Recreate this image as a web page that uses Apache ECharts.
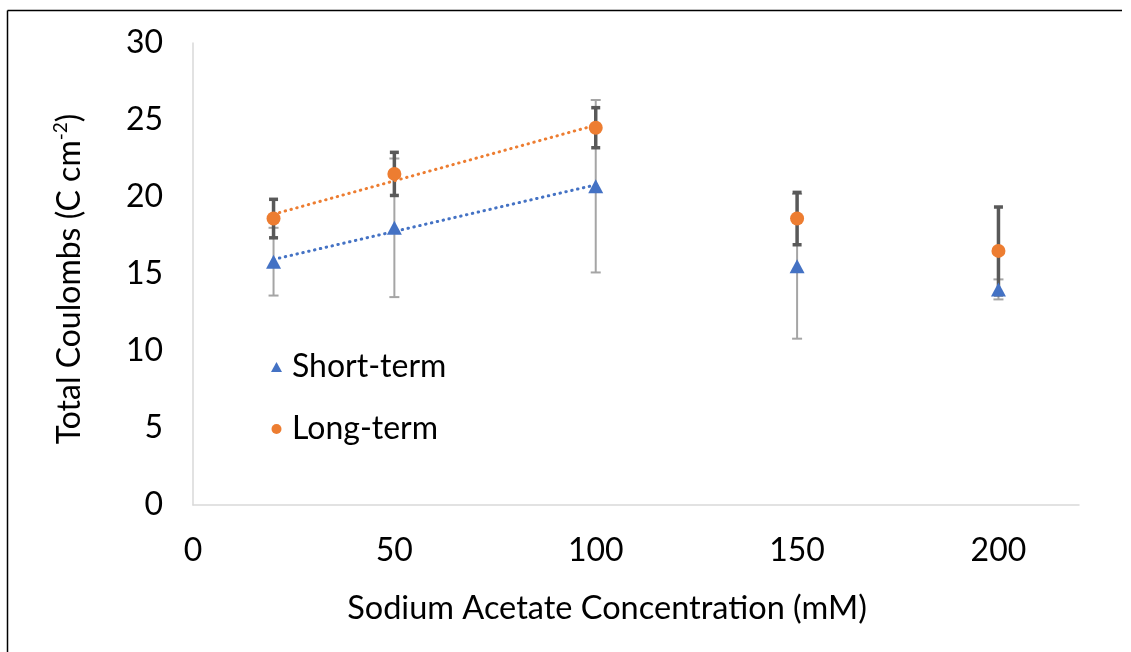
<!DOCTYPE html>
<html>
<head>
<meta charset="utf-8">
<script src="https://cdn.jsdelivr.net/npm/echarts@6/dist/echarts.min.js"></script>
<style>
  html, body { margin: 0; padding: 0; background: #ffffff; }
  #chart { width: 1131px; height: 652px; }
</style>
</head>
<body>
<div id="chart"></div>
<script>
// Sodium acetate concentration (mM)
const concentrations = [20, 50, 100, 150, 200];

// Total coulombs (C cm^-2), mean and error (+/-)
const shortTerm    = [15.8, 18.0, 20.7, 15.5, 14.0];
const shortTermErr = [2.2, 4.5, 5.6, 4.7, 0.65];
const longTerm     = [18.6, 21.5, 24.5, 18.6, 16.5];
const longTermErr  = [1.25, 1.4, 1.3, 1.7, 2.85];

// The linear trend is fitted over the 20–100 mM points only
const trendCount = 3;

const xTicks = [0, 50, 100, 150, 200];
const yTicks = [0, 5, 10, 15, 20, 25, 30];

const FONT = 'Lato, "Open Sans", sans-serif';
const BLUE = '#4472C4';
const ORANGE = '#ED7D31';

function linearFit(xs, ys) {
  const n = xs.length;
  const mx = xs.reduce((a, b) => a + b, 0) / n;
  const my = ys.reduce((a, b) => a + b, 0) / n;
  let sxy = 0, sxx = 0;
  for (let i = 0; i < n; i++) {
    sxy += (xs[i] - mx) * (ys[i] - my);
    sxx += (xs[i] - mx) * (xs[i] - mx);
  }
  const slope = sxy / sxx;
  const intercept = my - slope * mx;
  const x0 = xs[0], x1 = xs[n - 1];
  return [[x0, intercept + slope * x0], [x1, intercept + slope * x1]];
}

function errorData(vals, errs) {
  return concentrations.map((x, i) => [x, vals[i] - errs[i], vals[i] + errs[i]]);
}

function errorBarRenderer(color, width, capHalf) {
  return function (params, api) {
    const x = api.value(0);
    const top = api.coord([x, api.value(2)]);
    const bot = api.coord([x, api.value(1)]);
    const style = { stroke: color, lineWidth: width };
    return {
      type: 'group',
      children: [
        { type: 'line', shape: { x1: top[0], y1: top[1], x2: bot[0], y2: bot[1] }, style },
        { type: 'line', shape: { x1: top[0] - capHalf, y1: top[1], x2: top[0] + capHalf, y2: top[1] }, style },
        { type: 'line', shape: { x1: bot[0] - capHalf, y1: bot[1], x2: bot[0] + capHalf, y2: bot[1] }, style }
      ]
    };
  };
}

const shortTrend = linearFit(concentrations.slice(0, trendCount), shortTerm.slice(0, trendCount));
const longTrend = linearFit(concentrations.slice(0, trendCount), longTerm.slice(0, trendCount));

const chart = echarts.init(document.getElementById('chart'), null, { renderer: 'canvas' });

chart.setOption({
  animation: false,
  backgroundColor: '#ffffff',
  textStyle: { fontFamily: FONT },
  graphic: [
    { type: 'line', shape: { x1: 7.5, y1: 10.5, x2: 1122, y2: 10.5 }, style: { stroke: '#000', lineWidth: 1.5 } },
    { type: 'line', shape: { x1: 7.5, y1: 10.5, x2: 7.5, y2: 652 }, style: { stroke: '#000', lineWidth: 1.5 } }
  ],
  grid: { left: 193, right: 52, top: 43, bottom: 147, containLabel: false },
  legend: {
    orient: 'vertical',
    left: 266,
    top: 344,
    itemWidth: 11,
    itemHeight: 10,
    itemGap: 26,
    data: [
      { name: 'Short-term', icon: 'triangle', itemStyle: { color: BLUE, opacity: 1 } },
      { name: 'Long-term', icon: 'circle', itemStyle: { color: ORANGE, opacity: 1 } }
    ],
    textStyle: { fontFamily: FONT, fontSize: 32, color: '#000', lineHeight: 36, padding: [0, 0, 0, 5] }
  },
  xAxis: {
    type: 'value',
    min: 0,
    max: 220,
    interval: 50,
    name: 'Sodium Acetate Concentration (mM)',
    nameLocation: 'middle',
    nameGap: 87,
    nameTextStyle: { fontFamily: FONT, fontSize: 32.5, color: '#000', padding: [0, 58, 0, 0] },
    axisLine: { show: true, lineStyle: { color: '#D9D9D9', width: 1.5 } },
    axisTick: { show: false },
    splitLine: { show: false },
    axisLabel: {
      fontFamily: FONT, fontSize: 32, color: '#000', margin: 30,
      showMaxLabel: false,
      formatter: v => (xTicks.includes(v) ? String(v) : '')
    }
  },
  yAxis: {
    type: 'value',
    min: 0,
    max: 30,
    interval: 5,
    name: '{a|Total Coulombs (C cm}{s|-2}{a|)}',
    nameLocation: 'middle',
    nameGap: 104,
    nameTextStyle: {
      padding: [0, 10, 0, 0],
      rich: {
        a: { fontFamily: FONT, fontSize: 32, color: '#000', lineHeight: 38 },
        s: { fontFamily: FONT, fontSize: 19, color: '#000', lineHeight: 20, verticalAlign: 'top' }
      }
    },
    axisLine: { show: true, lineStyle: { color: '#D9D9D9', width: 1.5 } },
    axisTick: { show: false },
    splitLine: { show: false },
    axisLabel: {
      fontFamily: FONT, fontSize: 32, color: '#000', margin: 30,
      formatter: v => (yTicks.includes(v) ? String(v) : '')
    }
  },
  series: [
    {
      name: 'Short-term error',
      type: 'custom',
      renderItem: errorBarRenderer('#A5A5A5', 2, 5),
      encode: { x: 0, y: [1, 2] },
      data: errorData(shortTerm, shortTermErr),
      z: 1,
      silent: true
    },
    {
      name: 'Long-term error',
      type: 'custom',
      renderItem: errorBarRenderer('#595959', 3.5, 4.5),
      encode: { x: 0, y: [1, 2] },
      data: errorData(longTerm, longTermErr),
      z: 2,
      silent: true
    },
    {
      name: 'Short-term trend',
      type: 'line',
      data: shortTrend,
      showSymbol: false,
      lineStyle: { color: BLUE, width: 3, type: [0.5, 5.5], cap: 'round', opacity: 1 },
      z: 3,
      silent: true
    },
    {
      name: 'Long-term trend',
      type: 'line',
      data: longTrend,
      showSymbol: false,
      lineStyle: { color: ORANGE, width: 3, type: [0.5, 5.5], cap: 'round', opacity: 1 },
      z: 3,
      silent: true
    },
    {
      name: 'Short-term',
      type: 'scatter',
      symbol: 'triangle',
      symbolSize: [15, 14],
      itemStyle: { color: BLUE, opacity: 1 },
      data: concentrations.map((x, i) => [x, shortTerm[i]]),
      z: 4
    },
    {
      name: 'Long-term',
      type: 'scatter',
      symbol: 'circle',
      symbolSize: 14,
      itemStyle: { color: ORANGE, opacity: 1 },
      data: concentrations.map((x, i) => [x, longTerm[i]]),
      z: 4
    }
  ]
});
</script>
</body>
</html>
